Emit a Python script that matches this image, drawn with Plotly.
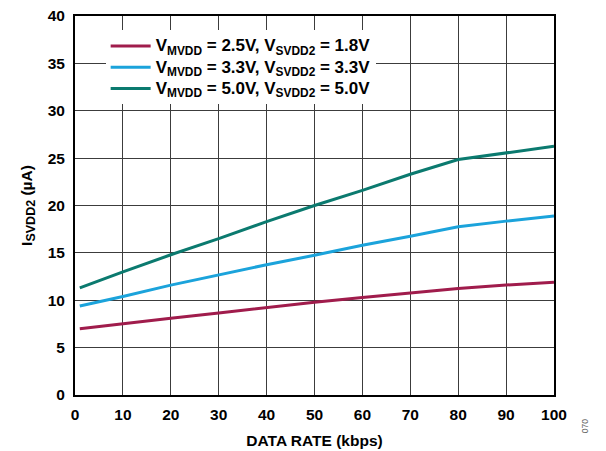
import plotly.graph_objects as go

data_rate = [1, 10, 20, 30, 40, 50, 60, 70, 80, 90, 100]
i_25_18 = [7.0, 7.55, 8.1, 8.65, 9.25, 9.8, 10.3, 10.8, 11.25, 11.6, 11.9]
i_33_33 = [9.4, 10.4, 11.6, 12.7, 13.75, 14.75, 15.8, 16.75, 17.75, 18.35, 18.9]
i_50_50 = [11.3, 13.0, 14.8, 16.5, 18.3, 20.0, 21.6, 23.3, 24.85, 25.55, 26.25]

names = [
    "V<sub>MVDD</sub> = 2.5V, V<sub>SVDD2</sub> = 1.8V",
    "V<sub>MVDD</sub> = 3.3V, V<sub>SVDD2</sub> = 3.3V",
    "V<sub>MVDD</sub> = 5.0V, V<sub>SVDD2</sub> = 5.0V",
]
colors = ["#A01C4C", "#1BA3DB", "#0B7A6F"]
series = [i_25_18, i_33_33, i_50_50]

fig = go.Figure()
for nm, ys, c in zip(names, series, colors):
    fig.add_trace(go.Scatter(x=data_rate, y=ys, mode="lines",
                             name="<span style='font-size:17px'>" + nm + "</span>",
                             line=dict(color=c, width=3)))

font_family = "Liberation Sans, Arial, sans-serif"
fig.update_layout(
    width=598, height=443,
    margin=dict(l=67, r=52, t=8, b=56, autoexpand=False),
    paper_bgcolor="white", plot_bgcolor="white",
    font=dict(family=font_family, size=15.5, color="black", weight="bold"),
    showlegend=True,
    legend=dict(x=0.064, y=0.962, xanchor="left", yanchor="top",
                bgcolor="white", borderwidth=0,
                font=dict(size=14, family=font_family, weight="bold"),
                tracegroupgap=0, itemwidth=40),
    xaxis=dict(range=[0, 100], tick0=0, dtick=10, showgrid=True,
               gridcolor="#3C3C3C", gridwidth=1,
               showline=True, linecolor="black", linewidth=2, mirror=True,
               ticks="", zeroline=False, automargin=False,
               ticklabelstandoff=4, ticklabeloverflow="allow",
               title=dict(text="DATA RATE (kbps)", standoff=14,
                          font=dict(size=15.5, weight="bold")),
               tickfont=dict(size=15.5, weight="bold")),
    yaxis=dict(range=[0, 40], tick0=0, dtick=5, showgrid=True,
               gridcolor="#3C3C3C", gridwidth=1,
               showline=True, linecolor="black", linewidth=2, mirror=True,
               ticks="", zeroline=False, automargin=False,
               ticklabelstandoff=5, ticklabeloverflow="allow",
               title=dict(text="I<sub><span style='font-size:12.5px'>SVDD2</span></sub> (µA)",
                          standoff=11,
                          font=dict(size=15.5, weight="bold")),
               tickfont=dict(size=15.5, weight="bold")),
)
fig.add_annotation(text="070", xref="paper", yref="paper", x=1.078, y=-0.105,
                   showarrow=False, textangle=-90,
                   font=dict(size=8.5, color="#666666", weight="normal"))

fig.write_html("out.html")
